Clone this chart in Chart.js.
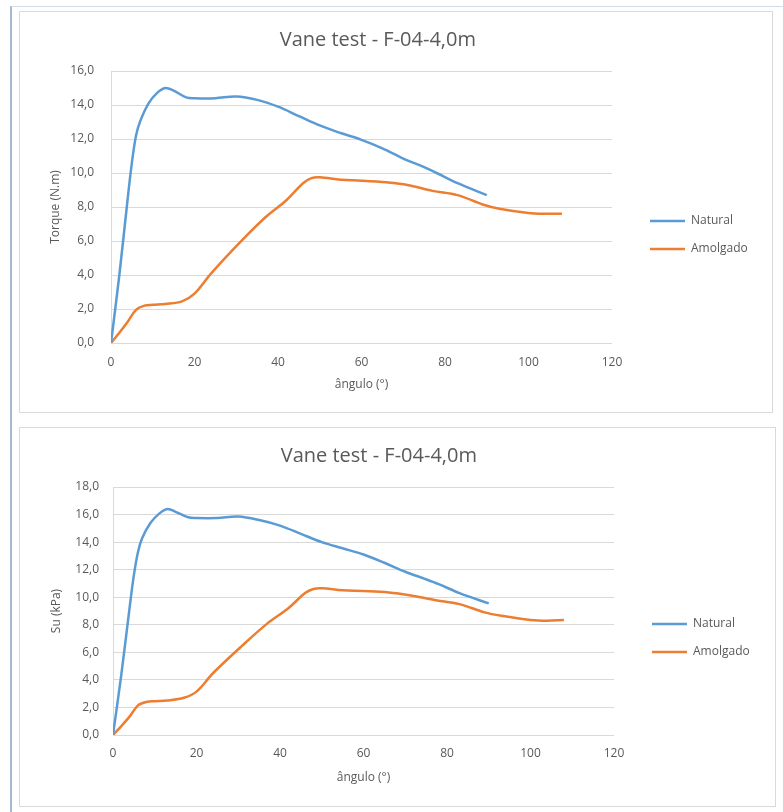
<!DOCTYPE html>
<html>
<head>
<meta charset="utf-8">
<script src="https://cdn.jsdelivr.net/npm/chart.js@4.4.1/dist/chart.umd.min.js"></script>
<style>
  body { margin: 0; background: #fff; }
  #marco { position: absolute; left: 10px; top: 6px; width: 773px; height: 806px;
           border-left: 2px solid #a3b9d4; border-top: 1px solid #d3dbe5; }
  .caja { position: absolute; border: 1px solid #d9d9d9; background: #fff; }
  .caja canvas { display: block; }
</style>
</head>
<body>
<div id="marco"></div>
<div class="caja" style="left:19px;top:11px;width:752px;height:400px">
  <canvas id="chartTorque" width="752" height="400"></canvas>
</div>
<div class="caja" style="left:19px;top:427px;width:755px;height:378px">
  <canvas id="chartSu" width="755" height="378"></canvas>
</div>

<script>
// --- DATOS ---
const titulo = 'Vane test - F-04-4,0m';
const etiquetaX = 'ângulo (°)';
const ticksX = [0, 20, 40, 60, 80, 100, 120];

const anguloNatural = [0, 2, 4, 5, 6, 7, 9, 11, 13, 15, 18, 20, 25, 30, 35, 40, 45, 50, 55, 60, 65, 70, 75, 78, 83, 90];
const anguloAmolgado = [0, 2, 4, 6, 8, 10, 13, 17, 20, 24, 31, 37, 42, 46, 48, 50, 55, 60, 66, 71, 77, 83, 89, 93, 100, 104, 108];

// Torque (N.m)
const torqueNatural = [0, 4.0, 8.5, 10.6, 12.2, 13.05, 14.1, 14.7, 15.0, 14.85, 14.45, 14.4, 14.4, 14.5, 14.3, 13.9, 13.35, 12.8, 12.35, 11.95, 11.45, 10.85, 10.35, 10.0, 9.4, 8.7];
const torqueAmolgado = [0, 0.6, 1.25, 1.95, 2.2, 2.25, 2.3, 2.45, 2.9, 4.1, 5.95, 7.4, 8.4, 9.4, 9.7, 9.75, 9.6, 9.55, 9.45, 9.3, 8.95, 8.7, 8.15, 7.9, 7.65, 7.6, 7.6];
const ticksTorque = [0, 2, 4, 6, 8, 10, 12, 14, 16];

// Su (kPa)
const suNatural = [0, 4.4, 9.3, 11.6, 13.3, 14.3, 15.4, 16.05, 16.4, 16.2, 15.8, 15.75, 15.75, 15.85, 15.6, 15.2, 14.6, 14.0, 13.55, 13.1, 12.5, 11.85, 11.3, 10.95, 10.3, 9.55];
const suAmolgado = [0, 0.65, 1.35, 2.15, 2.4, 2.45, 2.5, 2.7, 3.15, 4.5, 6.5, 8.1, 9.2, 10.3, 10.6, 10.65, 10.5, 10.45, 10.35, 10.15, 9.8, 9.5, 8.9, 8.65, 8.35, 8.3, 8.35];
const ticksSu = [0, 2, 4, 6, 8, 10, 12, 14, 16, 18];

const AZUL = '#5b9bd5';
const NARANJA = '#ed7d31';
const GRIS = '#595959';
const REJILLA = '#d9d9d9';

Chart.defaults.font.family = "'Open Sans', sans-serif";
Chart.defaults.color = GRIS;

// mueve la leyenda a la posición del original
const legendNudge = {
  id: 'legendNudge',
  afterLayout(chart, args, opts) {
    const lg = chart.legend;
    if (!lg) return;
    lg.left += opts.dx; lg.right += opts.dx;
    lg.top += opts.dy; lg.bottom += opts.dy;
  }
};

function puntos(xs, ys) {
  return xs.map((x, i) => ({ x: x, y: ys[i] }));
}

function crearGrafico(id, cfg) {
  const ctx = document.getElementById(id).getContext('2d');
  const chart = new Chart(ctx, {
    type: 'line',
    data: {
      datasets: [
        { label: 'Natural', data: puntos(anguloNatural, cfg.natural), borderColor: AZUL, backgroundColor: AZUL,
          borderWidth: 2.5, pointRadius: 0, tension: 0.35, fill: false },
        { label: 'Amolgado', data: puntos(anguloAmolgado, cfg.amolgado), borderColor: NARANJA, backgroundColor: NARANJA,
          borderWidth: 2.5, pointRadius: 0, tension: 0.35, fill: false }
      ]
    },
    plugins: [legendNudge],
    options: {
      responsive: false,
      animation: false,
      layout: { padding: { left: 0, right: 0, top: 0, bottom: 0 } },
      plugins: {
        title: { display: true, text: titulo, color: GRIS, font: { size: 20, weight: 'normal' }, padding: { top: 16, bottom: 19 } },
        legend: {
          position: 'right',
          labels: { usePointStyle: true, pointStyle: 'line', pointStyleWidth: 35, color: GRIS, font: { size: 12 }, padding: 16 }
        },
        legendNudge: { dx: cfg.legendDx, dy: cfg.legendDy },
        tooltip: { enabled: false }
      },
      scales: {
        x: {
          type: 'linear', min: 0, max: 120,
          afterBuildTicks: (s) => { s.ticks = ticksX.map(v => ({ value: v })); },
          afterFit: (s) => { s.height = cfg.alturaX; },
          ticks: { color: GRIS, font: { size: 12 }, padding: cfg.padTickX },
          grid: { display: false, drawTicks: false },
          border: { display: false },
          title: { display: true, text: etiquetaX, color: GRIS, font: { size: 12 }, padding: { top: 0, bottom: cfg.padTituloX } }
        },
        y: {
          min: 0, max: cfg.maxY,
          afterBuildTicks: (s) => { s.ticks = cfg.ticksY.map(v => ({ value: v })); },
          afterFit: (s) => { s.width = cfg.anchoY; },
          ticks: { color: GRIS, font: { size: 12 }, padding: cfg.padTickY,
                   callback: (v) => v.toFixed(1).replace('.', ',') },
          grid: { color: REJILLA, lineWidth: 1, drawTicks: false },
          border: { display: true, color: REJILLA },
          title: { display: true, text: cfg.tituloY, color: GRIS, font: { size: 12 }, padding: { top: cfg.padTituloY, bottom: 0 } }
        }
      }
    }
  });
  // ajustar el borde derecho del área de trazado
  const dif = chart.chartArea.right - cfg.derecha;
  chart.options.layout.padding.right = dif;
  chart.update();
  return chart;
}

crearGrafico('chartTorque', {
  natural: torqueNatural, amolgado: torqueAmolgado,
  maxY: 16, ticksY: ticksTorque, tituloY: 'Torque (N.m)',
  anchoY: 91, padTickY: 17, padTituloY: 28,
  alturaX: 69, padTickX: 12, padTituloX: 20,
  derecha: 592, legendDx: 22, legendDy: 23
});

crearGrafico('chartSu', {
  natural: suNatural, amolgado: suAmolgado,
  maxY: 18, ticksY: ticksSu, tituloY: 'Su (kPa)',
  anchoY: 93, padTickY: 14, padTituloY: 29,
  alturaX: 71, padTickX: 11, padTituloX: 21,
  derecha: 594, legendDx: 22, legendDy: 21
});
</script>
</body>
</html>
